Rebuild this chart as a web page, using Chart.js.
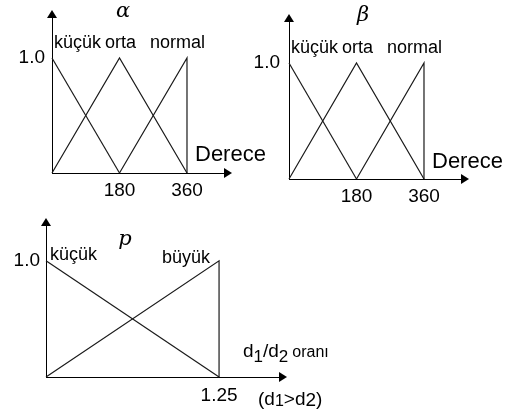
<!DOCTYPE html>
<html>
<head>
<meta charset="utf-8">
<title>Üyelik fonksiyonları</title>
<script src="https://cdn.jsdelivr.net/npm/chart.js@4.4.1/dist/chart.umd.min.js"></script>
<style>
  body { margin: 0; background: #fff; }
  #wrap { position: relative; width: 520px; height: 409px; }
  #wrap canvas { position: absolute; left: 0; top: 0; }
</style>
</head>
<body>
<div id="wrap">
  <canvas id="alphaChart" width="520" height="409"></canvas>
  <canvas id="betaChart" width="520" height="409"></canvas>
  <canvas id="ratioChart" width="520" height="409"></canvas>
</div>
<script>
// membership functions over the angle (degrees)
const degreeTicks = [180, 360];
const kucukDeg = [0, 180];
const kucukDegMu = [1, 0];
const ortaDeg = [0, 180, 360];
const ortaDegMu = [0, 1, 0];
const normalDeg = [180, 360, 360];
const normalDegMu = [0, 1, 0];
const degreeSets = ['küçük', 'orta', 'normal'];

// membership functions over d1/d2
const ratioTicks = [1.25];
const kucukRatio = [0, 1.25];
const kucukRatioMu = [1, 0];
const buyukRatio = [0, 1.25, 1.25];
const buyukRatioMu = [0, 1, 0];
const ratioSets = ['küçük', 'büyük'];

const muTicks = [1.0];

const SANS = '"Liberation Sans", Arial, sans-serif';
const SERIF = '"DejaVu Serif", "Liberation Serif", serif';

function pts(xs, ys) {
  return xs.map((x, i) => ({ x: x, y: ys[i] }));
}

function line(label, xs, ys) {
  return {
    label: label,
    data: pts(xs, ys),
    showLine: true,
    borderColor: '#1a1a1a',
    borderWidth: 1.2,
    pointRadius: 0,
    tension: 0,
    clip: false
  };
}

function arrowHead(ctx, x, y, dir) {
  ctx.save();
  ctx.fillStyle = '#000';
  ctx.beginPath();
  if (dir === 'up') {
    ctx.moveTo(x, y - 8);
    ctx.lineTo(x - 5, y);
    ctx.lineTo(x + 5, y);
  } else {
    ctx.moveTo(x + 8, y);
    ctx.lineTo(x, y - 5);
    ctx.lineTo(x, y + 5);
  }
  ctx.closePath();
  ctx.fill();
  ctx.restore();
}

// draws a run of text pieces; each piece may be shifted down and use its own size
function textRun(ctx, x, y, parts) {
  ctx.save();
  ctx.textBaseline = 'alphabetic';
  ctx.textAlign = 'left';
  ctx.fillStyle = '#000';
  parts.forEach(p => {
    ctx.font = p.size + 'px ' + SANS;
    ctx.fillText(p.t, x, y + (p.dy || 0));
    x += ctx.measureText(p.t).width + (p.gap || 0);
  });
  ctx.restore();
}

// arrows, set names, variable name and any extra axis text, per chart
function decorations(deco) {
  return {
    id: 'decorations',
    afterDraw(chart) {
      const { ctx, chartArea: a, scales: { x, y } } = chart;
      arrowHead(ctx, a.left, a.top, 'up');
      arrowHead(ctx, a.right, a.bottom, 'right');

      ctx.save();
      ctx.fillStyle = '#000';
      ctx.textBaseline = 'middle';

      ctx.font = deco.setFont;
      deco.sets.forEach(s => {
        ctx.textAlign = s.align;
        ctx.fillText(s.text, x.getPixelForValue(s.at) + s.dx, y.getPixelForValue(1) + s.dy);
      });

      ctx.font = 'italic 21px ' + SERIF;
      ctx.textAlign = 'center';
      ctx.fillText(deco.title, deco.titleX, deco.titleY);
      ctx.restore();

      if (deco.extra) deco.extra(ctx);
    }
  };
}

function makeChart(id, datasets, xTicks, xMax, yMax, box, deco) {
  return new Chart(document.getElementById(id), {
    type: 'scatter',
    data: { datasets: datasets },
    plugins: [decorations(deco)],
    options: {
      responsive: false,
      animation: false,
      events: [],
      layout: { padding: box.pad },
      plugins: { legend: { display: false }, tooltip: { enabled: false } },
      scales: {
        x: {
          type: 'linear',
          min: 0,
          max: xMax,
          grid: { display: false, drawTicks: false },
          border: { display: true, color: '#000', width: 1 },
          afterBuildTicks: s => { s.ticks = xTicks.map(v => ({ value: v })); },
          afterFit: s => {
            s.height = 30;
            s.paddingLeft = s.paddingRight = s.paddingTop = s.paddingBottom = 0;
          },
          ticks: {
            padding: box.xPad,
            color: '#000',
            font: { family: SANS, size: 19 },
            maxRotation: 0,
            autoSkip: false,
            callback: v => String(v)
          }
        },
        y: {
          type: 'linear',
          min: 0,
          max: yMax,
          grid: { display: false, drawTicks: false },
          border: { display: true, color: '#000', width: 1 },
          afterBuildTicks: s => { s.ticks = muTicks.map(v => ({ value: v })); },
          afterFit: s => {
            s.width = box.yWidth;
            s.paddingLeft = s.paddingRight = s.paddingTop = s.paddingBottom = 0;
          },
          ticks: {
            padding: box.yPad,
            color: '#000',
            font: { family: SANS, size: 19 },
            callback: v => v.toFixed(1)
          }
        }
      }
    }
  });
}

function degreeDatasets() {
  return [
    line(degreeSets[0], kucukDeg, kucukDegMu),
    line(degreeSets[1], ortaDeg, ortaDegMu),
    line(degreeSets[2], normalDeg, normalDegMu)
  ];
}

function degreeLabels() {
  return [
    { text: degreeSets[0], at: 0, dx: 2, dy: -15, align: 'left' },
    { text: degreeSets[1], at: 180, dx: 1, dy: -15, align: 'center' },
    { text: degreeSets[2], at: 360, dx: 18, dy: -15, align: 'right' }
  ];
}

function dereceLabel(lx, ly) {
  return (ctx) => {
    ctx.save();
    ctx.fillStyle = '#000';
    ctx.font = '22px ' + SANS;
    ctx.textBaseline = 'middle';
    ctx.fillText('Derece', lx, ly);
    ctx.restore();
  };
}

const setFont = '18px ' + SANS;

makeChart('alphaChart', degreeDatasets(), degreeTicks, 458.7, 1.348,
  { pad: { left: 0, top: 18, right: 296, bottom: 206 }, yWidth: 52, yPad: 7, xPad: 6 },
  { sets: degreeLabels(), setFont: setFont, title: 'α', titleX: 123, titleY: 12,
    extra: dereceLabel(195, 155) });

makeChart('betaChart', degreeDatasets(), degreeTicks, 458.7, 1.353,
  { pad: { left: 239, top: 22, right: 59, bottom: 200 }, yWidth: 50, yPad: 9, xPad: 6 },
  { sets: degreeLabels(), setFont: setFont, title: 'β', titleX: 363, titleY: 16,
    extra: dereceLabel(432, 162) });

makeChart('ratioChart',
  [line(ratioSets[0], kucukRatio, kucukRatioMu), line(ratioSets[1], buyukRatio, buyukRatioMu)],
  ratioTicks, 1.683, 1.30,
  { pad: { left: 0, top: 226, right: 241, bottom: 2 }, yWidth: 46, yPad: 6, xPad: 7 },
  { sets: [
      { text: ratioSets[0], at: 0, dx: 4, dy: -6, align: 'left' },
      { text: ratioSets[1], at: 1.25, dx: -9, dy: -3, align: 'right' }
    ],
    setFont: setFont, title: 'p', titleX: 125, titleY: 240,
    extra: (ctx) => {
      textRun(ctx, 243, 357, [
        { t: 'd', size: 19 }, { t: '1', size: 17, dy: 5 }, { t: '/d', size: 19 },
        { t: '2', size: 17, dy: 5, gap: 4 }, { t: 'oranı', size: 16 }
      ]);
      textRun(ctx, 258, 405, [
        { t: '(d', size: 19 }, { t: '1', size: 16, dy: 1 }, { t: '>d', size: 19 },
        { t: '2', size: 19, dy: 1 }, { t: ')', size: 19 }
      ]);
    } });
</script>
</body>
</html>
